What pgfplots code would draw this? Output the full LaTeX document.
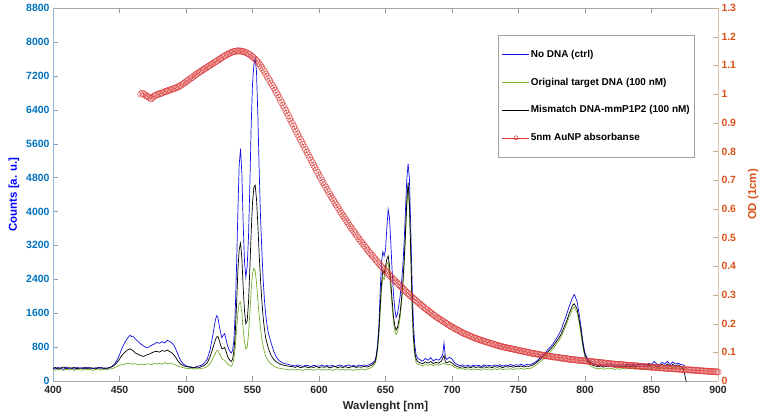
\documentclass[border=0pt]{standalone}
\usepackage{fontspec}
\setmainfont{Liberation Sans}
\usepackage{pgfplots}
\pgfplotsset{compat=1.18}
\definecolor{lblue}{RGB}{0,114,189}
\definecolor{lorange}{RGB}{217,83,25}
\definecolor{sblue}{RGB}{15,15,230}
\definecolor{sgreen}{RGB}{119,172,48}
\definecolor{sred}{RGB}{218,55,55}
\definecolor{txt}{RGB}{38,38,38}
\definecolor{frame}{RGB}{160,160,160}

\pgfplotstableread{
x y
400 310
402 285
404 320
406 300
408 275
410 330
412 295
414 310
416 280
418 320
420 300
422 315
424 285
426 325
428 300
430 290
432 315
434 295
436 325
438 290
440 310
442 300
444 340
446 390
448 480
450 620
452 780
454 910
456 1010
458 1080
459 1050
460 1060
462 990
464 930
466 870
468 830
470 790
472 800
474 840
476 870
478 910
480 890
482 930
484 900
486 960
488 930
490 880
492 780
494 620
496 480
498 400
500 360
502 340
504 330
506 310
508 345
510 355
512 380
514 430
516 520
518 720
520 1050
522 1420
523 1540
524 1500
525 1300
526 1150
527 1020
528 1080
529 1120
530 1000
531 860
532 760
533 700
534 660
535 720
536 950
537 1600
538 2700
539 4000
540 5100
541 5480
542 4900
543 3700
544 2800
545 2450
546 2700
547 3400
548 4600
549 6000
550 7000
551 7450
552 7620
553 7300
554 6300
555 5000
556 3900
557 3100
558 2400
559 1900
560 1550
561 1300
562 1120
564 900
566 700
568 560
570 480
572 440
574 410
576 400
578 380
580 370
582 355
584 380
586 360
588 345
590 375
592 360
594 340
596 370
598 355
600 350
602 380
604 345
606 365
608 350
610 370
612 340
614 360
616 375
618 345
620 360
622 380
624 350
626 365
628 345
630 375
632 360
634 380
636 365
638 390
640 420
642 480
643 600
644 850
645 1300
646 2100
647 2800
648 3050
649 2950
650 3100
651 3600
652 4050
653 3850
654 3250
655 2600
656 2050
657 1700
658 1500
659 1580
660 1780
661 2000
662 2300
663 2700
664 3250
665 4000
666 4750
667 5130
668 4750
669 3600
670 2300
671 1350
672 850
673 620
674 540
676 500
678 470
680 530
682 490
684 550
686 470
688 520
690 490
692 560
693 620
694 900
695 560
696 510
698 560
700 520
702 430
704 390
706 360
708 380
710 350
712 370
714 345
716 375
718 355
720 370
722 340
724 380
726 355
728 370
730 350
732 380
734 360
736 385
738 350
740 375
742 365
744 390
746 360
748 385
750 370
752 395
754 365
756 390
758 380
760 400
762 430
764 480
766 540
768 600
770 660
772 740
774 800
776 880
778 980
780 1080
782 1200
784 1380
786 1550
788 1750
790 1920
791 1990
792 2040
793 1960
794 1880
795 1700
796 1500
797 1280
798 1020
799 820
800 660
802 520
804 440
806 410
808 390
810 370
812 390
814 360
816 385
818 370
820 395
822 365
824 380
826 360
828 390
830 370
832 400
834 375
836 390
838 365
840 395
842 380
844 400
846 370
848 420
850 390
852 460
854 400
856 380
858 440
860 400
862 460
864 390
866 450
868 400
870 420
872 390
874 380
875 350
}\nodna

\pgfplotstableread{
x y
400 270
402 255
404 285
406 265
408 250
410 280
412 260
414 275
416 250
418 280
420 265
422 255
424 280
426 260
428 275
430 250
432 270
434 285
436 255
438 275
440 265
442 280
444 290
446 310
448 340
450 370
452 385
454 400
456 420
458 410
460 395
462 410
464 385
466 400
468 380
470 395
472 405
474 385
476 415
478 400
480 420
482 395
484 435
486 410
488 425
490 400
492 380
494 350
496 330
498 315
500 300
502 290
504 305
506 280
508 295
510 285
512 300
514 310
516 340
518 410
520 520
522 650
523 710
524 720
525 660
526 600
527 520
528 500
529 490
530 450
531 410
532 380
533 360
534 350
535 390
536 520
537 800
538 1200
539 1600
540 1830
541 1860
542 1600
543 1220
544 920
545 760
546 800
547 1100
548 1600
549 2150
550 2520
551 2660
552 2600
553 2320
554 1920
555 1550
556 1250
557 1000
558 820
559 680
560 580
562 470
564 400
566 350
568 320
570 300
572 290
574 280
576 275
578 260
580 285
582 255
584 275
586 265
588 250
590 280
592 260
594 275
596 250
598 270
600 285
602 255
604 275
606 260
608 280
610 250
612 270
614 285
616 260
618 275
620 255
622 280
624 265
626 250
628 275
630 260
632 285
634 265
636 280
638 300
640 330
642 400
643 500
644 720
645 1050
646 1600
647 2150
648 2450
649 2400
650 2580
651 2760
652 2800
653 2550
654 2150
655 1750
656 1400
657 1180
658 1100
659 1150
660 1300
661 1500
662 1800
663 2200
664 2700
665 3350
666 4100
667 4520
668 4050
669 2900
670 1700
671 950
672 580
673 440
674 400
676 380
678 360
680 390
682 370
684 400
686 360
688 390
690 370
692 400
694 420
696 380
698 390
700 370
702 320
704 300
706 280
708 295
710 270
712 290
714 265
716 285
718 270
720 280
722 255
724 290
726 270
728 285
730 260
732 290
734 270
736 295
738 265
740 285
742 275
744 295
746 270
748 290
750 280
752 300
754 275
756 295
758 290
760 310
762 350
764 400
766 450
768 500
770 560
772 630
774 690
776 760
778 850
780 940
782 1040
784 1180
786 1330
788 1500
790 1650
791 1720
792 1740
793 1680
794 1620
795 1480
796 1300
797 1100
798 880
799 700
800 550
802 430
804 360
806 320
808 300
810 285
812 305
814 275
816 295
818 285
820 300
822 270
824 290
826 275
828 300
830 280
832 305
834 285
836 300
838 275
840 300
842 285
844 305
846 280
848 310
850 290
852 320
854 295
856 285
858 320
860 295
862 330
864 290
866 320
868 300
870 315
872 290
874 300
876 285
}\target

\pgfplotstableread{
x y
400 300
402 320
404 280
406 310
408 330
410 290
412 315
414 300
416 325
418 285
420 310
422 295
424 320
426 290
428 315
430 305
432 285
434 320
436 300
438 310
440 295
442 315
444 330
446 370
448 430
450 520
452 610
454 680
456 730
458 760
460 720
462 660
464 630
466 600
468 580
470 610
472 630
474 660
476 690
478 700
480 680
482 720
484 700
486 730
488 690
490 650
492 570
494 470
496 400
498 360
500 340
502 330
504 320
506 310
508 330
510 320
512 345
514 370
516 430
518 560
520 760
522 960
523 1040
524 1050
525 960
526 850
527 760
528 770
529 790
530 710
531 610
532 530
533 490
534 460
535 510
536 700
537 1100
538 1800
539 2600
540 3100
541 3250
542 2900
543 2200
544 1650
545 1350
546 1420
547 1850
548 2650
549 3500
550 4200
551 4560
552 4620
553 4300
554 3700
555 3000
556 2400
557 1900
558 1500
559 1220
560 1000
561 880
562 760
564 600
566 510
568 450
570 410
572 385
574 370
576 355
578 345
580 340
582 320
584 345
586 315
588 330
590 340
592 310
594 335
596 320
598 345
600 315
602 335
604 325
606 340
608 310
610 330
612 345
614 315
616 335
618 320
620 340
622 315
624 330
626 345
628 320
630 335
632 325
634 345
636 330
638 350
640 380
642 440
643 560
644 780
645 1150
646 1750
647 2300
648 2620
649 2520
650 2700
651 2880
652 2950
653 2720
654 2320
655 1900
656 1520
657 1300
658 1200
659 1260
660 1420
661 1620
662 1920
663 2300
664 2820
665 3500
666 4250
667 4680
668 4200
669 3050
670 1850
671 1050
672 680
673 520
674 460
676 430
678 410
680 450
682 420
684 460
686 410
688 440
690 420
692 470
694 600
695 450
696 430
698 460
700 430
702 370
704 340
706 320
708 340
710 310
712 335
714 315
716 340
718 320
720 335
722 305
724 340
726 320
728 335
730 315
732 340
734 325
736 345
738 315
740 340
742 330
744 350
746 325
748 345
750 335
752 355
754 330
756 350
758 345
760 365
762 400
764 450
766 500
768 560
770 620
772 690
774 750
776 820
778 910
780 1000
782 1100
784 1250
786 1400
788 1580
790 1740
791 1800
792 1820
793 1760
794 1700
795 1550
796 1380
797 1180
798 950
799 760
800 610
802 480
804 410
806 370
808 350
810 335
812 355
814 325
816 345
818 335
820 355
822 325
824 340
826 320
828 350
830 330
832 360
834 335
836 350
838 325
840 355
842 340
844 360
846 330
848 370
850 345
852 380
854 350
856 340
858 390
860 350
862 400
864 345
866 390
868 355
870 380
872 345
873 330
874 280
875 150
876 0
877 -150
}\mismatch

\pgfplotstableread{
x y
466 1.000
467 1.003
468 1.001
469 0.998
470 0.994
471 0.992
472 0.989
473 0.986
474 0.984
475 0.988
476 0.993
477 0.996
478 0.998
479 0.999
480 1.001
481 1.002
482 1.004
483 1.006
484 1.008
485 1.009
486 1.011
487 1.013
488 1.015
489 1.016
490 1.018
491 1.019
492 1.021
493 1.023
494 1.025
495 1.027
496 1.030
497 1.033
498 1.036
499 1.039
500 1.043
501 1.046
502 1.050
503 1.053
504 1.056
505 1.059
506 1.063
507 1.066
508 1.070
509 1.073
510 1.076
511 1.079
512 1.082
513 1.085
514 1.088
515 1.091
516 1.094
517 1.097
518 1.100
519 1.103
520 1.106
521 1.109
522 1.112
523 1.115
524 1.118
525 1.121
526 1.124
527 1.127
528 1.130
529 1.133
530 1.135
531 1.138
532 1.140
533 1.143
534 1.145
535 1.147
536 1.148
537 1.149
538 1.150
539 1.151
540 1.150
541 1.150
542 1.149
543 1.148
544 1.147
545 1.145
546 1.143
547 1.140
548 1.137
549 1.134
550 1.130
551 1.126
552 1.122
553 1.117
554 1.112
555 1.106
556 1.100
557 1.093
558 1.085
559 1.078
560 1.070
561 1.062
562 1.054
563 1.046
564 1.038
565 1.030
566 1.022
567 1.014
568 1.005
569 0.997
570 0.988
571 0.979
572 0.970
573 0.961
574 0.952
575 0.943
576 0.934
577 0.925
578 0.915
579 0.906
580 0.897
581 0.888
582 0.878
583 0.869
584 0.860
585 0.851
586 0.842
587 0.833
588 0.824
589 0.815
590 0.806
591 0.797
592 0.788
593 0.779
594 0.770
595 0.761
596 0.752
597 0.744
598 0.735
599 0.727
600 0.718
601 0.709
602 0.700
603 0.692
604 0.684
605 0.676
606 0.668
607 0.660
608 0.652
609 0.644
610 0.636
611 0.629
612 0.621
613 0.614
614 0.606
615 0.599
616 0.591
617 0.584
618 0.577
619 0.570
620 0.563
621 0.556
622 0.549
623 0.542
624 0.535
625 0.529
626 0.522
627 0.516
628 0.509
629 0.503
630 0.496
631 0.490
632 0.484
633 0.478
634 0.472
635 0.466
636 0.460
637 0.454
638 0.448
639 0.443
640 0.437
641 0.432
642 0.426
643 0.421
644 0.415
645 0.410
646 0.404
647 0.399
648 0.394
649 0.389
650 0.384
651 0.379
652 0.374
653 0.369
654 0.364
655 0.359
656 0.354
657 0.350
658 0.345
659 0.341
660 0.336
661 0.332
662 0.327
663 0.323
664 0.318
665 0.314
666 0.309
667 0.305
668 0.300
669 0.296
670 0.292
671 0.288
672 0.284
673 0.280
674 0.276
675 0.272
676 0.268
677 0.264
678 0.260
679 0.256
680 0.252
681 0.249
682 0.245
683 0.242
684 0.238
685 0.235
686 0.231
687 0.228
688 0.224
689 0.221
690 0.218
691 0.215
692 0.212
693 0.209
694 0.206
695 0.203
696 0.200
697 0.197
698 0.194
699 0.191
700 0.188
701 0.186
702 0.183
703 0.181
704 0.178
705 0.176
706 0.173
707 0.171
708 0.168
709 0.166
710 0.164
711 0.162
712 0.160
713 0.158
714 0.156
715 0.154
716 0.152
717 0.150
718 0.148
719 0.147
720 0.145
721 0.1435
722 0.142
723 0.1405
724 0.139
725 0.1375
726 0.136
727 0.1345
728 0.133
729 0.1315
730 0.130
731 0.1285
732 0.127
733 0.1255
734 0.124
735 0.123
736 0.122
737 0.1205
738 0.119
739 0.118
740 0.117
741 0.116
742 0.115
743 0.114
744 0.113
745 0.112
746 0.111
747 0.110
748 0.109
749 0.108
750 0.107
751 0.106
752 0.105
753 0.104
754 0.103
755 0.102
756 0.101
757 0.100
758 0.099
759 0.098
760 0.097
761 0.096
762 0.095
763 0.0945
764 0.094
765 0.093
766 0.092
767 0.091
768 0.090
769 0.0895
770 0.089
771 0.088
772 0.087
773 0.0865
774 0.086
775 0.085
776 0.084
777 0.0835
778 0.083
779 0.0825
780 0.082
781 0.081
782 0.080
783 0.0795
784 0.079
785 0.0785
786 0.078
787 0.077
788 0.076
789 0.0755
790 0.075
791 0.0745
792 0.074
793 0.0735
794 0.073
795 0.0725
796 0.072
797 0.0715
798 0.071
799 0.0705
800 0.070
801 0.0695
802 0.069
803 0.0685
804 0.068
805 0.0675
806 0.067
807 0.0665
808 0.066
809 0.0655
810 0.065
811 0.0645
812 0.064
813 0.0635
814 0.063
815 0.0625
816 0.062
817 0.0615
818 0.061
819 0.0605
820 0.060
821 0.0595
822 0.059
823 0.0585
824 0.058
825 0.058
826 0.0575
827 0.057
828 0.057
829 0.0565
830 0.056
831 0.0555
832 0.055
833 0.0545
834 0.054
835 0.054
836 0.0535
837 0.053
838 0.053
839 0.0525
840 0.052
841 0.0515
842 0.051
843 0.051
844 0.0505
845 0.050
846 0.050
847 0.0495
848 0.049
849 0.0485
850 0.048
851 0.048
852 0.0475
853 0.047
854 0.047
855 0.0465
856 0.046
857 0.046
858 0.0455
859 0.045
860 0.045
861 0.0445
862 0.044
863 0.044
864 0.0435
865 0.043
866 0.043
867 0.0425
868 0.042
869 0.042
870 0.0415
871 0.041
872 0.041
873 0.0405
874 0.040
875 0.040
876 0.0395
877 0.039
878 0.039
879 0.0385
880 0.038
881 0.038
882 0.0375
883 0.037
884 0.037
885 0.0365
886 0.036
887 0.036
888 0.0355
889 0.035
890 0.035
891 0.0345
892 0.034
893 0.034
894 0.0335
895 0.033
896 0.033
897 0.0325
898 0.032
899 0.032
900 0.0315
}\aunp

\pgfplotsset{
  common/.style={
    at={(0,0)}, anchor=south west,
    scale only axis, width=665bp, height=373bp,
    xmin=400, xmax=900,
    tick align=inside, major tick length=5bp,
    /pgf/number format/assume math mode=true,
    /pgf/number format/set thousands separator={},
    scaled ticks=false,
    tick label style={font=\bfseries\fontsize{10.5}{12}\selectfont},
    label style={font=\bfseries\fontsize{11.5}{13}\selectfont},
  },
}

\begin{document}
\begin{tikzpicture}
\path[use as bounding box] (-53bp,-38bp) rectangle (710bp,381bp);
\begin{axis}[common,
  ymin=0, ymax=8800,
  xtick={400,450,...,900},
  ytick={0,800,...,8800},
  axis y line*=left, axis x line*=box,
  xtick pos=both,
  x axis line style={draw={rgb,255:red,170;green,170;blue,170}},
  y axis line style={draw={rgb,255:red,150;green,185;blue,215}},
  xtick style={draw={rgb,255:red,150;green,150;blue,150}},
  ytick style={draw={rgb,255:red,120;green,165;blue,205}},
  xticklabel style={text=txt, yshift=-2bp},
  yticklabel style={text=lblue},
  xlabel={Wavlenght [nm]}, xlabel style={text=txt},
  ylabel={Counts [a. u.]}, ylabel style={text=blue},
]
\addplot[sblue, line width=0.7bp] table {\nodna};
\addplot[sgreen, line width=0.7bp] table {\target};
\addplot[black, line width=0.7bp] table {\mismatch};
\end{axis}
\begin{axis}[common,
  ymin=0, ymax=1.3,
  ytick={0,0.1,0.2,0.3,0.4,0.5,0.6,0.7,0.8,0.9,1,1.1,1.2,1.3},
  axis x line=none, axis y line*=right,
  y axis line style={draw={rgb,255:red,215;green,195;blue,175}},
  ytick style={draw={rgb,255:red,200;green,170;blue,145}},
  yticklabel style={text=lorange},
  ylabel={OD (1cm)}, ylabel style={text=lorange}, ylabel shift=5bp,
  legend style={draw=frame, line width=0.5bp,
    font=\bfseries\fontsize{10}{12}\selectfont,
    at={(0.9654,0.9276)}, anchor=north east,
    inner xsep=4bp, inner ysep=14bp, row sep=17bp,
    nodes={inner sep=1bp}},
  legend cell align=left,
]
\addplot[sred, line width=0.35bp, mark=o, mark size=3.2bp, forget plot,
  mark options={line width=0.35bp}] table {\aunp};
\addlegendimage{legend image code/.code={\draw[draw=sblue, line width=1bp] (0bp,0bp) -- (27bp,0bp);}}
\addlegendentry{No DNA (ctrl)}
\addlegendimage{legend image code/.code={\draw[draw=sgreen, line width=1bp] (0bp,0bp) -- (27bp,0bp);}}
\addlegendentry{Original target DNA (100 nM)}
\addlegendimage{legend image code/.code={\draw[draw=black, line width=1bp] (0bp,0bp) -- (27bp,0bp);}}
\addlegendentry{Mismatch DNA-mmP1P2 (100 nM)}
\addlegendimage{legend image code/.code={\draw[draw=sred, line width=0.5bp] (0bp,0bp) -- (27bp,0bp); \draw[draw=sred, line width=0.5bp] (13.5bp,0bp) circle (2bp);}}
\addlegendentry{5nm AuNP absorbanse}
\end{axis}
\end{tikzpicture}
\end{document}
